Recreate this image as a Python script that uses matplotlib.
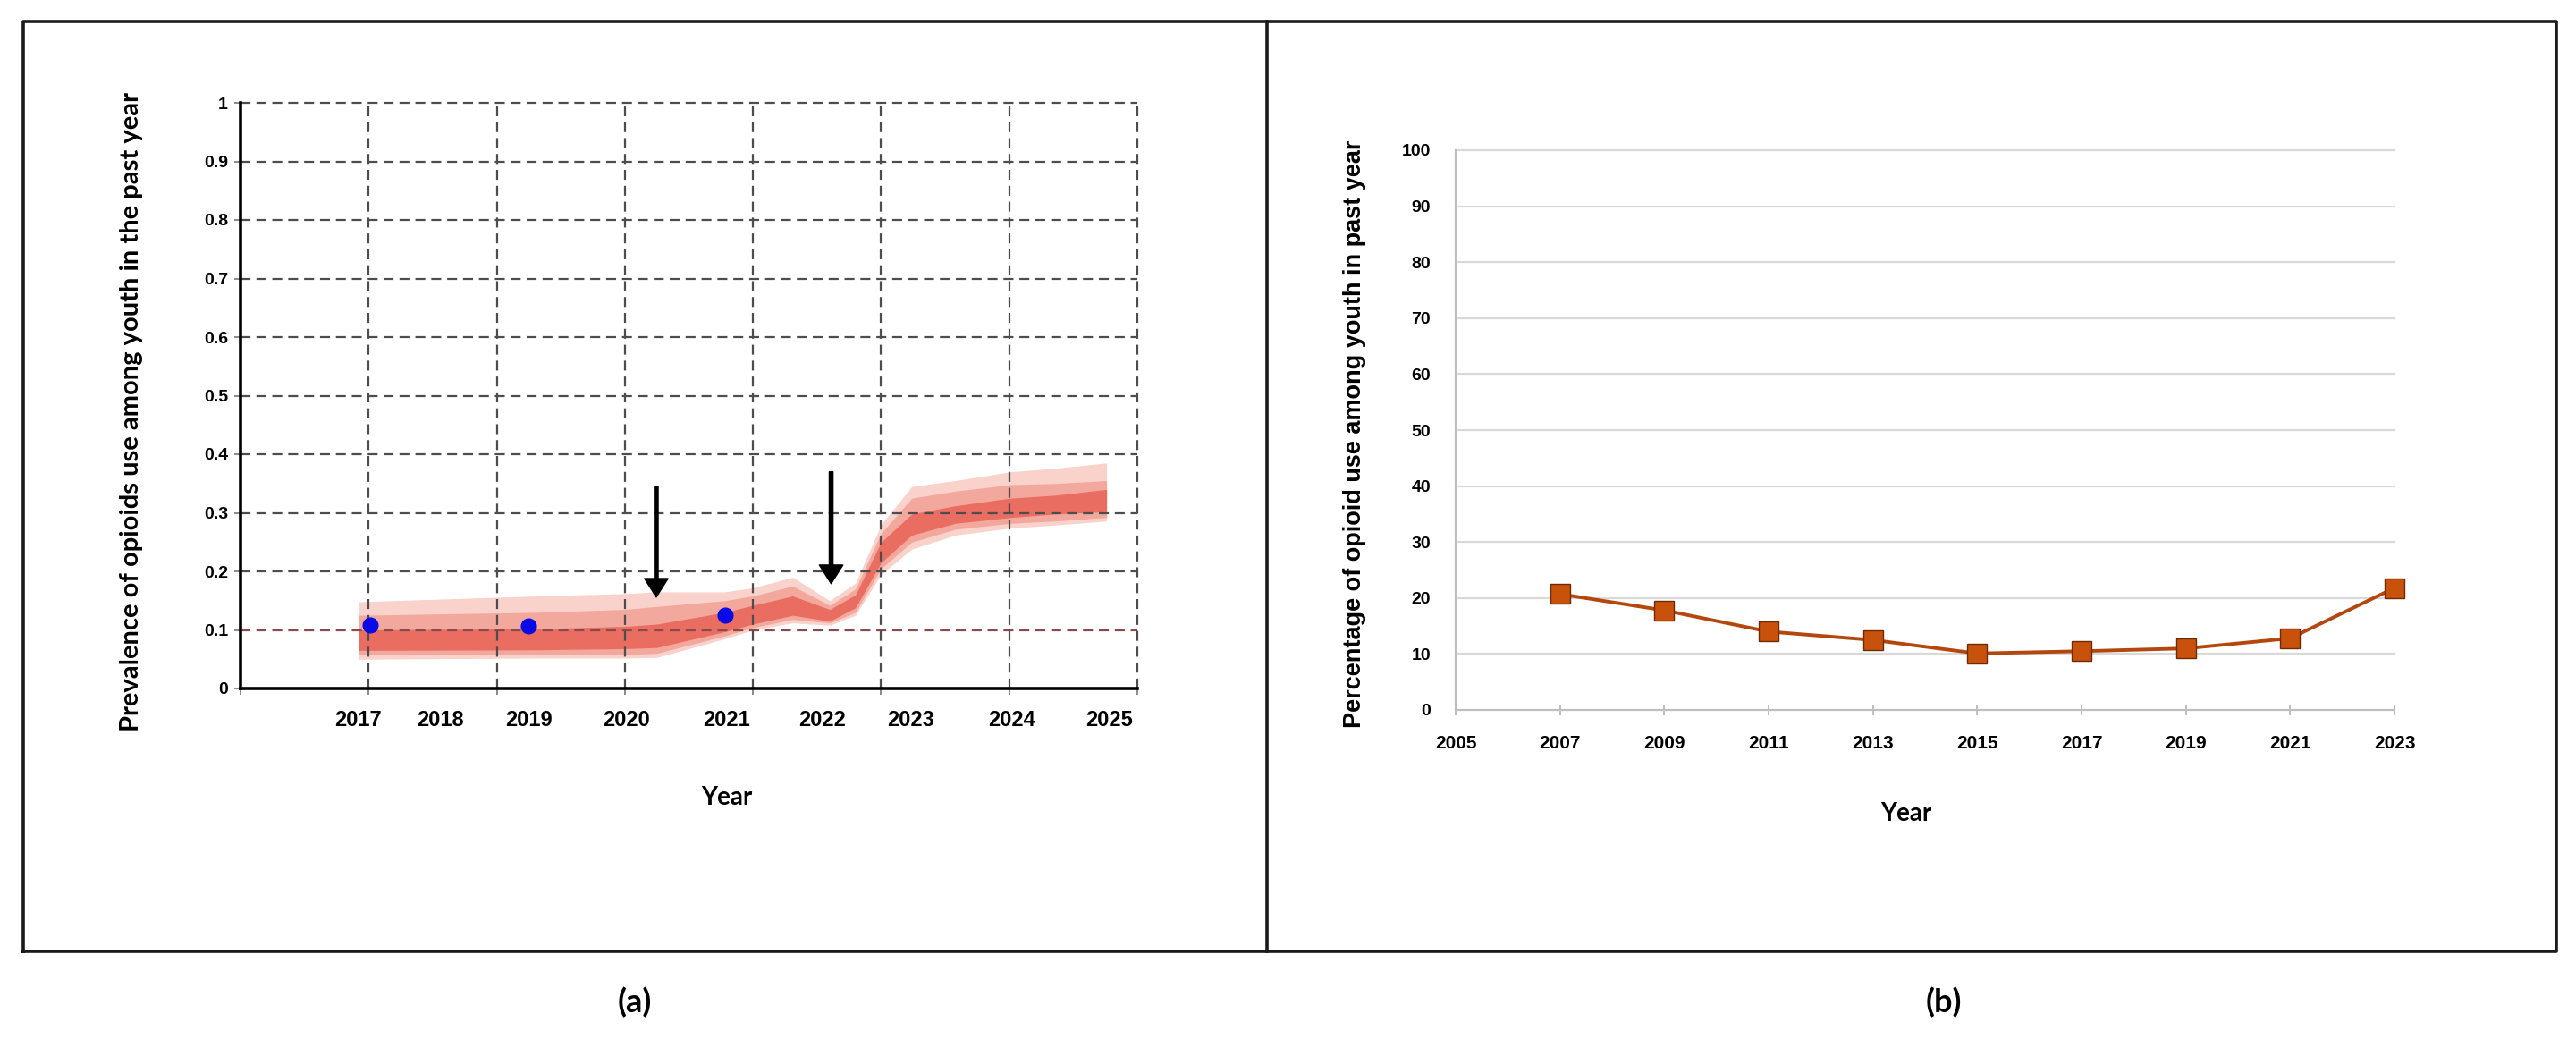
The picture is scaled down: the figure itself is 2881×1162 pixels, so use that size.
import matplotlib.pyplot as plt
import numpy as np
from matplotlib.lines import Line2D

# -----------------------------
# Panel (a) data: simulated prevalence band (x in grid units of the original chart)
# -----------------------------
year_labels = ['2017', '2018', '2019', '2020', '2021', '2022', '2023', '2024', '2025']
year_pos = [0.92, 1.56, 2.25, 3.01, 3.79, 4.54, 5.23, 6.02, 6.78]

band_u = [0.92, 2.31, 3.0, 3.25, 3.78, 4.0, 4.31, 4.6, 4.8, 5.0, 5.24, 5.58, 6.01, 6.36, 6.76]
outer_lo = [0.050, 0.052, 0.052, 0.053, 0.085, 0.100, 0.112, 0.108, 0.125, 0.195, 0.238, 0.262, 0.274, 0.279, 0.286]
outer_hi = [0.148, 0.158, 0.162, 0.165, 0.165, 0.172, 0.190, 0.150, 0.180, 0.280, 0.345, 0.355, 0.370, 0.376, 0.385]
mid_lo = [0.058, 0.058, 0.058, 0.060, 0.090, 0.104, 0.118, 0.112, 0.130, 0.205, 0.250, 0.272, 0.282, 0.286, 0.292]
mid_hi = [0.125, 0.130, 0.135, 0.140, 0.150, 0.158, 0.175, 0.142, 0.170, 0.265, 0.325, 0.337, 0.348, 0.350, 0.355]
core_lo = [0.065, 0.066, 0.068, 0.070, 0.097, 0.110, 0.125, 0.115, 0.138, 0.215, 0.262, 0.282, 0.292, 0.298, 0.302]
core_hi = [0.100, 0.102, 0.106, 0.110, 0.130, 0.142, 0.158, 0.135, 0.160, 0.250, 0.298, 0.312, 0.325, 0.330, 0.340]

# observed survey points
obs_pos = [1.01, 2.25, 3.78]
obs_val = [0.109, 0.107, 0.125]

# intervention arrows (x, start y, tip y)
arrow_x = [3.245, 4.61]
arrow_top = [0.345, 0.370]
arrow_tip = [0.156, 0.179]

# -----------------------------
# Panel (b) data
# -----------------------------
years_b = [2007, 2009, 2011, 2013, 2015, 2017, 2019, 2021, 2023]
pct_b = [20.7, 17.8, 14.0, 12.5, 10.1, 10.5, 11.0, 12.8, 21.8]

W, H = 2881, 1162
fig = plt.figure(figsize=(W / 100, H / 100), dpi=100)
fig.patch.set_facecolor('white')

# -----------------------------
# Panel (a)
# -----------------------------
ax = fig.add_axes([269 / W, 1 - 770 / H, (1272 - 269) / W, (770 - 115) / H])
ax.set_xlim(0, 7)
ax.set_ylim(0, 1)

ax.fill_between(band_u, outer_lo, outer_hi, color='#f8d2cb', lw=0, zorder=1)
ax.fill_between(band_u, mid_lo, mid_hi, color='#f2a89c', lw=0, zorder=1.1)
ax.fill_between(band_u, core_lo, core_hi, color='#ea6d61', lw=0, zorder=1.2)

dash = (0, (5, 3))
for v in np.arange(1, 11) / 10:
    col = '#8a4a4a' if abs(v - 0.1) < 1e-9 else '#4d4d4d'
    ax.axhline(v, color=col, lw=1.6, ls=dash, zorder=2, clip_on=False)
for u in range(1, 8):
    ax.axvline(u, color='#4d4d4d', lw=1.6, ls=dash, zorder=2, clip_on=False)

ax.plot(obs_pos, obs_val, 'o', color='#0a0ae6', ms=12, zorder=4)

for x, y0, y1 in zip(arrow_x, arrow_top, arrow_tip):
    ax.annotate('', xy=(x, y1), xytext=(x, y0),
                arrowprops=dict(facecolor='black', edgecolor='black', width=3,
                                headwidth=19, headlength=15, shrink=0),
                zorder=5)

for s in ['top', 'right']:
    ax.spines[s].set_visible(False)
for s in ['left', 'bottom']:
    ax.spines[s].set_linewidth(2.6)
    ax.spines[s].set_color('black')
    ax.spines[s].set_zorder(6)

ax.set_yticks(np.arange(0, 11) / 10)
ax.set_yticklabels(['0'] + ['0.%d' % i for i in range(1, 10)] + ['1'],
                   fontfamily='Liberation Sans', fontweight='bold', fontsize=14)
ax.tick_params(axis='y', length=5, width=1.2, color='#777777', pad=5)

ax.set_xticks(range(0, 8))
ax.set_xticklabels([])
ax.tick_params(axis='x', which='major', length=5, width=1.2, color='#777777')
ax.set_xticks(year_pos, minor=True)
ax.set_xticklabels(year_labels, minor=True, fontfamily='Liberation Sans',
                   fontweight='bold', fontsize=17)
ax.tick_params(axis='x', which='minor', length=0, pad=17)

fig.text(147 / W, 1 - 461 / H, 'Prevalence of opioids use among youth in the past year',
         rotation=90, ha='center', va='center', fontfamily='Lato', fontweight='bold', fontsize=21)
fig.text(813 / W, 1 - 892 / H, 'Year', ha='center', va='center',
         fontfamily='Lato', fontweight='bold', fontsize=20)
fig.text(710 / W, 1 - 1121 / H, '(a)', ha='center', va='center',
         fontfamily='Lato', fontweight='bold', fontsize=26)

# -----------------------------
# Panel (b)
# -----------------------------
bx = fig.add_axes([1628 / W, 1 - 794 / H, (2678 - 1628) / W, (794 - 168) / H])
bx.set_xlim(2005, 2023)
bx.set_ylim(0, 100)
for v in range(10, 101, 10):
    bx.axhline(v, color='#d9d9d9', lw=1.6, zorder=1, clip_on=False)

bx.plot(years_b, pct_b, color='#b4470e', lw=2.8, marker='s', ms=16,
        markerfacecolor='#c8520c', markeredgecolor='#6e2a06', markeredgewidth=1.0,
        zorder=3, clip_on=False)

for s in ['top', 'right']:
    bx.spines[s].set_visible(False)
for s in ['left', 'bottom']:
    bx.spines[s].set_linewidth(1.6)
    bx.spines[s].set_color('#bfbfbf')

bx.set_yticks(range(0, 101, 10))
bx.set_xticks(range(2005, 2024, 2))
bx.tick_params(axis='y', length=0, pad=20, labelsize=14)
bx.tick_params(axis='x', direction='inout', length=9, width=1.4, color='#bfbfbf',
               pad=16, labelsize=15)
for lab in bx.get_xticklabels() + bx.get_yticklabels():
    lab.set_fontfamily('Liberation Sans')
    lab.set_fontweight('bold')

fig.text(1515 / W, 1 - 485 / H, 'Percentage of opioid use among youth in past year',
         rotation=90, ha='center', va='center', fontfamily='Liberation Sans',
         fontweight='bold', fontsize=19.5)
fig.text(2132 / W, 1 - 910 / H, 'Year', ha='center', va='center',
         fontfamily='Lato', fontweight='bold', fontsize=20)
fig.text(2174 / W, 1 - 1121 / H, '(b)', ha='center', va='center',
         fontfamily='Lato', fontweight='bold', fontsize=26)

# -----------------------------
# Outer frame around both panels
# -----------------------------
x0, x1, xm = 26 / W, 2859 / W, 1417 / W
y0, y1 = 1 - 1064 / H, 1 - 24 / H
frame = dict(color='#1a1a1a', lw=2.6, transform=fig.transFigure)
fig.add_artist(Line2D([x0, x1, x1, x0, x0], [y0, y0, y1, y1, y0], **frame))
fig.add_artist(Line2D([xm, xm], [y0, y1], **frame))

fig.savefig('out.png', dpi=100, facecolor='white')
